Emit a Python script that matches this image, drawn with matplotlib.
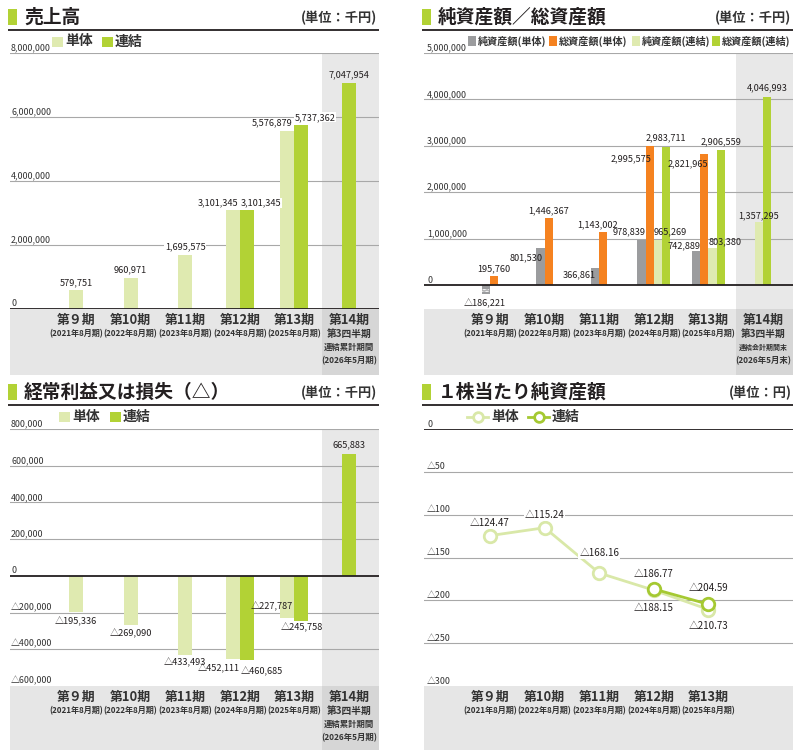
import numpy as np
import matplotlib
matplotlib.use('Agg')
import matplotlib.pyplot as plt
from matplotlib.patches import Rectangle
from matplotlib.lines import Line2D

W, H = 798, 752

# ---- data ----
periods = ['第９期', '第10期', '第11期', '第12期', '第13期', '第14期']
fy_labels = ['(2021年8月期)', '(2022年8月期)', '(2023年8月期)', '(2024年8月期)', '(2025年8月期)']
q3_labels = ['第3四半期', '連結累計期間', '(2026年5月期)']
q3_labels_bs = ['第3四半期', '連結会計期間末', '(2026年5月末)']

sales_single = [579751, 960971, 1695575, 3101345, 5576879, None]
sales_consol = [None, None, None, 3101345, 5737362, 7047954]

net_single = [-186221, 801530, 366861, 978839, 742889, None]
total_single = [195760, 1446367, 1143002, 2995575, 2821965, None]
net_consol = [None, None, None, 965269, 803380, 1357295]
total_consol = [None, None, None, 2983711, 2906559, 4046993]

ord_single = [-195336, -269090, -433493, -452111, -227787, None]
ord_consol = [None, None, None, -460685, -245758, 665883]

bps_single = [-124.47, -115.24, -168.16, -188.15, -210.73]
bps_consol = [None, None, None, -186.77, -204.59]

# ---- style ----
GRAY_BAR = '#9b9c9e'
ORANGE = '#f58220'
LIGHT = '#dfeab0'
GREEN = '#b2d235'
LINE_LIGHT = '#d9e8a8'
LINE_GREEN = '#a5c932'
BAND = '#e6e6e6'
BAND_DARK = '#d6d6d6'
SHADE = '#e8e8e8'
GRID = '#a8a8a8'
TXT = '#231f20'
JP = ['Noto Sans CJK JP', 'DejaVu Sans']
NUM = ['Noto Sans CJK JP', 'DejaVu Sans']
XMIN, XMAX = -1.209, 5.549

plt.rcParams['font.family'] = JP
fig = plt.figure(figsize=(W / 100, H / 100), dpi=100)
fig.patch.set_facecolor('white')

bg = fig.add_axes([0, 0, 1, 1])
bg.set_xlim(0, W)
bg.set_ylim(H, 0)
bg.axis('off')


def fmt(v):
    return ('△' if v < 0 else '') + f'{abs(v):,}'


def header(x0, x1, yl, title, unit):
    bg.add_patch(Rectangle((x0 + 0.3, yl - 21.5), 9, 16, color=GREEN, lw=0))
    bg.text(x0 + 16, yl - 12.5, title, fontsize=13.5, weight='bold', color=TXT,
            va='center', ha='left')
    bg.text(x1 - 1.5, yl - 12.5, unit, fontsize=9.5, weight='bold', color='#333333',
            va='center', ha='right')
    bg.plot([x0, x1], [yl, yl], color=TXT, lw=1.3, solid_capstyle='butt')


def box_legend(items, y, size=10):
    for x, color, label, fs in items:
        bg.add_patch(Rectangle((x, y - 5), size, 10, color=color, lw=0))
        bg.text(x + size + 2, y, label, fontsize=fs, weight='bold', color='#333333',
                va='center', ha='left')


def make_axes(l, t, r, b, band_b, ylim, ticks, shade14, tick_dx):
    ax = fig.add_axes([l / W, 1 - b / H, (r - l) / W, (b - t) / H])
    ax.set_xlim(XMIN, XMAX)
    ax.set_ylim(*ylim)
    ax.axis('off')
    bf = (band_b - b) / (b - t)
    ax.add_patch(Rectangle((0, -bf), 1, bf, transform=ax.transAxes, color=BAND,
                           clip_on=False, zorder=0.2, lw=0))
    if shade14:
        ax.axvspan(4.5, XMAX, color=SHADE, zorder=0.3, lw=0)
        ax.add_patch(Rectangle((4.5, -bf), XMAX - 4.5, bf, transform=ax.get_xaxis_transform(),
                               color=BAND_DARK, clip_on=False, zorder=0.4, lw=0))
    for tk in ticks:
        if tk == 0:
            ax.axhline(0, color=TXT, lw=1.3, zorder=2.5)
        elif tk != ylim[0]:
            ax.axhline(tk, color=GRID, lw=0.8, zorder=1)
        lab = fmt(tk) if isinstance(tk, int) else ('△' if tk < 0 else '') + f'{abs(tk):g}'
        ax.annotate(lab, xy=(0, tk), xycoords=ax.get_yaxis_transform(),
                    xytext=(tick_dx, 2.5), textcoords='offset pixels',
                    fontsize=6.4, family=NUM, color='#333333', va='baseline', ha='left')
    return ax


def cat_labels(ax, n, last_lines):
    for i in range(n):
        ax.annotate(periods[i], xy=(i, 0), xycoords=ax.get_xaxis_transform(),
                    xytext=(0, -11), textcoords='offset pixels', ha='center', va='center',
                    fontsize=9.3, weight='bold', color='#333333')
        if i < 5:
            ax.annotate(fy_labels[i], xy=(i, 0), xycoords=ax.get_xaxis_transform(),
                        xytext=(0, -25), textcoords='offset pixels', ha='center', va='center',
                        fontsize=5.8, weight='bold', family=NUM, color='#333333')
        else:
            sizes = [7, 6, 6]
            if last_lines[1].endswith('末'):
                sizes = [7, 5, 6]
            for k, (txt, fs) in enumerate(zip(last_lines, sizes)):
                ax.annotate(txt, xy=(i, 0), xycoords=ax.get_xaxis_transform(),
                            xytext=(0, -25 - 13.5 * k), textcoords='offset pixels',
                            ha='center', va='center', fontsize=fs, weight='bold',
                            family=NUM, color='#333333')


def draw_bars(ax, series, colors, width, place, use_box):
    for i in range(len(periods)):
        present = [(s, series[s][i]) for s in range(len(series)) if series[s][i] is not None]
        n = len(present)
        for k, (s, v) in enumerate(present):
            x = i + (k - (n - 1) / 2) * width
            ax.bar(x, v, width, color=colors[s], zorder=2, lw=0)
            anchor, dx, dy = place[s][i]
            if anchor == 'r':
                xa, ha = x + width / 2, 'right'
            elif anchor == 'l':
                xa, ha = x - width / 2, 'left'
            else:
                xa, ha = x, 'center'
            box = None
            if use_box and i < 5:
                box = dict(boxstyle='square,pad=0.05', fc='white', ec='none')
            ax.annotate(fmt(v), xy=(xa, v), xytext=(dx, dy), textcoords='offset pixels',
                        ha=ha, va='center', fontsize=6.6, family=NUM, color=TXT,
                        bbox=box, zorder=4)


# ---------- 売上高 ----------
header(8, 379, 30, '売上高', '(単位：千円)')
box_legend([(52, LIGHT, '単体', 10), (102, GREEN, '連結', 10)], 41.5, 11)
ax1 = make_axes(10, 53, 379, 309, 375, (0, 8000000),
                [0, 2000000, 4000000, 6000000, 8000000], True, 1)
place1 = [
    [('c', 0, 8), ('c', 0, 8), ('c', 0, 8), ('r', -1, 7), ('r', -2, 7.5), None],
    [None, None, None, ('l', 1, 7), ('l', 0, 8), ('c', 0, 8.5)],
]
draw_bars(ax1, [sales_single, sales_consol], [LIGHT, GREEN], 0.256, place1, True)
cat_labels(ax1, 6, q3_labels)

# ---------- 純資産額／総資産額 ----------
header(422, 793, 30, '純資産額／総資産額', '(単位：千円)')
box_legend([(468, GRAY_BAR, '純資産額(単体)', 7.3), (549, ORANGE, '総資産額(単体)', 7.3),
            (632, LIGHT, '純資産額(連結)', 7.3), (712, GREEN, '総資産額(連結)', 7.3)], 41, 8)
ax2 = make_axes(424, 53, 793, 309, 375, (-517000, 5000000),
                [0, 1000000, 2000000, 3000000, 4000000, 5000000], True, 3)
place2 = [
    [('c', -1, -10), ('r', -2, -10), ('r', -3, -7), ('r', 0, 7.5), ('r', 0, 4.5), None],
    [('c', 0, 7), ('c', 0, 7), ('c', -6, 7), ('r', -2, -13), ('r', 0, -10), None],
    [None, None, None, ('l', 0, 8), ('l', 0, 6), ('c', 0, 6)],
    [None, None, None, ('c', 0, 8.5), ('c', 0, 8), ('c', 0, 9)],
]
w2 = 0.15
draw_bars(ax2, [net_single, total_single, net_consol, total_consol],
          [GRAY_BAR, ORANGE, LIGHT, GREEN], w2, place2, False)
# break mark on the negative bar
ax2.annotate('≈', xy=(0 - w2 / 2, 0), xytext=(0, -6), textcoords='offset pixels',
             ha='center', va='center', fontsize=8, color='white', family=['DejaVu Sans'],
             zorder=3)
cat_labels(ax2, 6, q3_labels_bs)

# ---------- 経常利益又は損失 ----------
header(8, 379, 405, '経常利益又は損失（△）', '(単位：千円)')
box_legend([(59, LIGHT, '単体', 10), (110, GREEN, '連結', 10)], 417, 11)
ax3 = make_axes(10, 429, 379, 686, 750, (-600000, 800000),
                [-600000, -400000, -200000, 0, 200000, 400000, 600000, 800000], True, 1)
place3 = [
    [('c', 0, -10), ('c', 0, -8), ('c', 0, -7), ('r', 0, -10), ('r', -1, 11), None],
    [None, None, None, ('l', 1, -11), ('c', 0, -7), ('c', 0, 8.5)],
]
draw_bars(ax3, [ord_single, ord_consol], [LIGHT, GREEN], 0.256, place3, False)
cat_labels(ax3, 6, q3_labels)

# ---------- 1株当たり純資産額 ----------
header(422, 793, 405, '１株当たり純資産額', '(単位：円)')
ax4 = make_axes(424, 429, 793, 686, 750, (-300, 0),
                [0, -50, -100, -150, -200, -250, -300], False, 3)
xs = np.arange(len(bps_single))
ys_s = np.array(bps_single, dtype=float)
ys_c = np.array([np.nan if v is None else v for v in bps_consol], dtype=float)
ax4.plot(xs, ys_s, color=LINE_LIGHT, lw=2, marker='o', ms=9, mfc='white',
         mec=LINE_LIGHT, mew=2, zorder=3)
ax4.plot(xs, ys_c, color=LINE_GREEN, lw=2, marker='o', ms=9, mfc='white',
         mec=LINE_GREEN, mew=2, zorder=3.5)
place4_s = [13, 13, 20, -18, -16]
place4_c = [None, None, None, 14.5, 16]
for vals, pl in [(bps_single, place4_s), (bps_consol, place4_c)]:
    for i, v in enumerate(vals):
        if v is None:
            continue
        ax4.annotate(f'△{abs(v):.2f}', xy=(i, v), xytext=(0, pl[i]), textcoords='offset pixels',
                     ha='center', va='center', fontsize=7, family=NUM, color=TXT, zorder=4,
                     bbox=dict(boxstyle='square,pad=0.1', fc='white', ec='none'))
cat_labels(ax4, 5, q3_labels)

# line legend
for x0, color, label in [(467, LINE_LIGHT, '単体'), (528, LINE_GREEN, '連結')]:
    bg.add_line(Line2D([x0, x0 + 21], [417, 417], color=color, lw=2))
    bg.plot([x0 + 10.5], [417], marker='o', ms=7, mfc='white', mec=color, mew=2)
    bg.text(x0 + 24, 417, label, fontsize=10, weight='bold', color='#333333',
            va='center', ha='left')

fig.savefig('out.png', dpi=100, facecolor='white')
